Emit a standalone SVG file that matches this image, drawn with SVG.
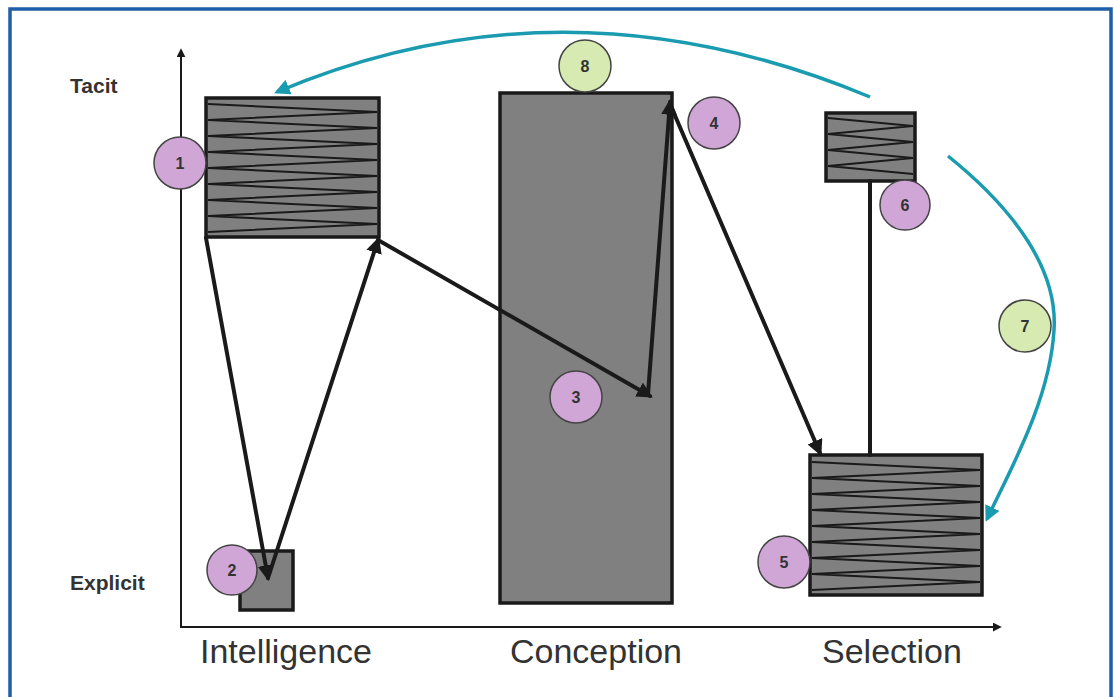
<svg xmlns="http://www.w3.org/2000/svg" width="1114" height="697" viewBox="0 0 1114 697">
<style>
.box{fill:#808080;stroke:#1a1a1a;stroke-width:3.5}
.zz{fill:none;stroke:#1a1a1a;stroke-width:2}
.blk{fill:none;stroke:#1a1a1a;stroke-width:4;stroke-linecap:round}
.teal{fill:none;stroke:#1a9bb0;stroke-width:3.5}
.pur{fill:#cfa6d6;stroke:#444;stroke-width:1.5}
.grn{fill:#d6eab2;stroke:#444;stroke-width:1.5}
.num{font-family:"Liberation Sans",Arial,sans-serif;font-size:16px;font-weight:bold;fill:#333;text-anchor:middle}
.ax{font-family:"Liberation Sans",Arial,sans-serif;font-size:21px;font-weight:bold;fill:#333}
.lab{font-family:"Liberation Sans",Arial,sans-serif;font-size:34px;fill:#333}
</style>
<defs>
<marker id="ah" viewBox="0 0 10 10" refX="8" refY="5" markerWidth="4" markerHeight="4" orient="auto" markerUnits="strokeWidth">
<path d="M0,0 L10,5 L0,10 Z" fill="#1a1a1a"/>
</marker>
<marker id="ahs" viewBox="0 0 10 10" refX="8" refY="5" markerWidth="9" markerHeight="9" orient="auto" markerUnits="userSpaceOnUse">
<path d="M0,0 L10,5 L0,10 Z" fill="#1a1a1a"/>
</marker>
<marker id="aht" viewBox="0 0 10 10" refX="8" refY="5" markerWidth="4.5" markerHeight="4.5" orient="auto" markerUnits="strokeWidth">
<path d="M0,0 L10,5 L0,10 Z" fill="#1a9bb0"/>
</marker>
</defs>
<rect x="10" y="9" width="1101" height="720" fill="#fff" stroke="#1f5ea8" stroke-width="3.5"/>
<g id="axes">
<line x1="181" y1="627" x2="181" y2="50" stroke="#1a1a1a" stroke-width="2" marker-end="url(#ahs)"/>
<line x1="180" y1="627" x2="1000" y2="627" stroke="#1a1a1a" stroke-width="2" marker-end="url(#ahs)"/>
<text class="ax" x="70" y="93">Tacit</text>
<text class="ax" x="70" y="590">Explicit</text>
<text class="lab" x="200" y="663">Intelligence</text>
<text class="lab" x="510" y="663">Conception</text>
<text class="lab" x="822" y="663">Selection</text>
</g>
<g id="node-intelligence-tacit">
<rect class="box" x="206" y="98" width="173" height="139"/>
<polyline class="zz" points="208,104 377,112 208,120 377,128 208,136 377,144 208,152 377,160 208,168 377,176 208,184 377,192 208,200 377,208 208,216 377,224 208,232"/>
</g>
<g id="node-intelligence-explicit">
<rect class="box" x="240" y="551" width="53" height="59" stroke-width="2.5"/>
</g>
<g id="node-conception">
<rect class="box" x="500" y="93" width="172" height="510" stroke-width="2.5"/>
</g>
<g id="node-selection-tacit">
<rect class="box" x="826" y="113" width="89" height="68"/>
<polyline class="zz" points="828,118 913,126 828,134 913,142 828,150 913,158 828,166 913,174"/>
</g>
<g id="node-selection-explicit">
<rect class="box" x="810" y="455" width="172" height="140"/>
<polyline class="zz" points="812,462 980,470 812,478 980,486 812,494 980,502 812,510 980,518 812,526 980,534 812,542 980,550 812,558 980,566 812,574 980,582 812,590"/>
</g>
<g id="connectors">
<line class="blk" x1="206" y1="238" x2="268" y2="578" marker-end="url(#ah)"/>
<line class="blk" x1="268" y1="578" x2="378" y2="240" marker-end="url(#ah)"/>
<line class="blk" x1="378" y1="240" x2="650" y2="396" marker-end="url(#ah)"/>
<line class="blk" x1="648" y1="394" x2="670" y2="102" marker-end="url(#ah)"/>
<line class="blk" x1="670" y1="104" x2="820" y2="453" marker-end="url(#ah)"/>
<line class="blk" x1="870" y1="181" x2="870" y2="455"/>
<path class="teal" d="M870,97 Q565,-30 277,92" marker-end="url(#aht)"/>
<path class="teal" d="M948,156 C1015,210 1058,270 1054,330 C1050,400 1010,470 987,519" marker-end="url(#aht)"/>
</g>
<g id="label-1"><circle class="pur" cx="180" cy="163" r="26"/><text class="num" x="180" y="169">1</text></g>
<g id="label-2"><circle class="pur" cx="232" cy="570" r="25"/><text class="num" x="232" y="576">2</text></g>
<g id="label-3"><circle class="pur" cx="576" cy="397" r="26"/><text class="num" x="576" y="403">3</text></g>
<g id="label-4"><circle class="pur" cx="714" cy="123" r="26"/><text class="num" x="714" y="129">4</text></g>
<g id="label-5"><circle class="pur" cx="784" cy="562" r="26"/><text class="num" x="784" y="568">5</text></g>
<g id="label-6"><circle class="pur" cx="905" cy="205" r="25"/><text class="num" x="905" y="211">6</text></g>
<g id="label-7"><circle class="grn" cx="1025" cy="326" r="26"/><text class="num" x="1025" y="332">7</text></g>
<g id="label-8"><circle class="grn" cx="585" cy="66" r="26"/><text class="num" x="585" y="72">8</text></g>
</svg>
